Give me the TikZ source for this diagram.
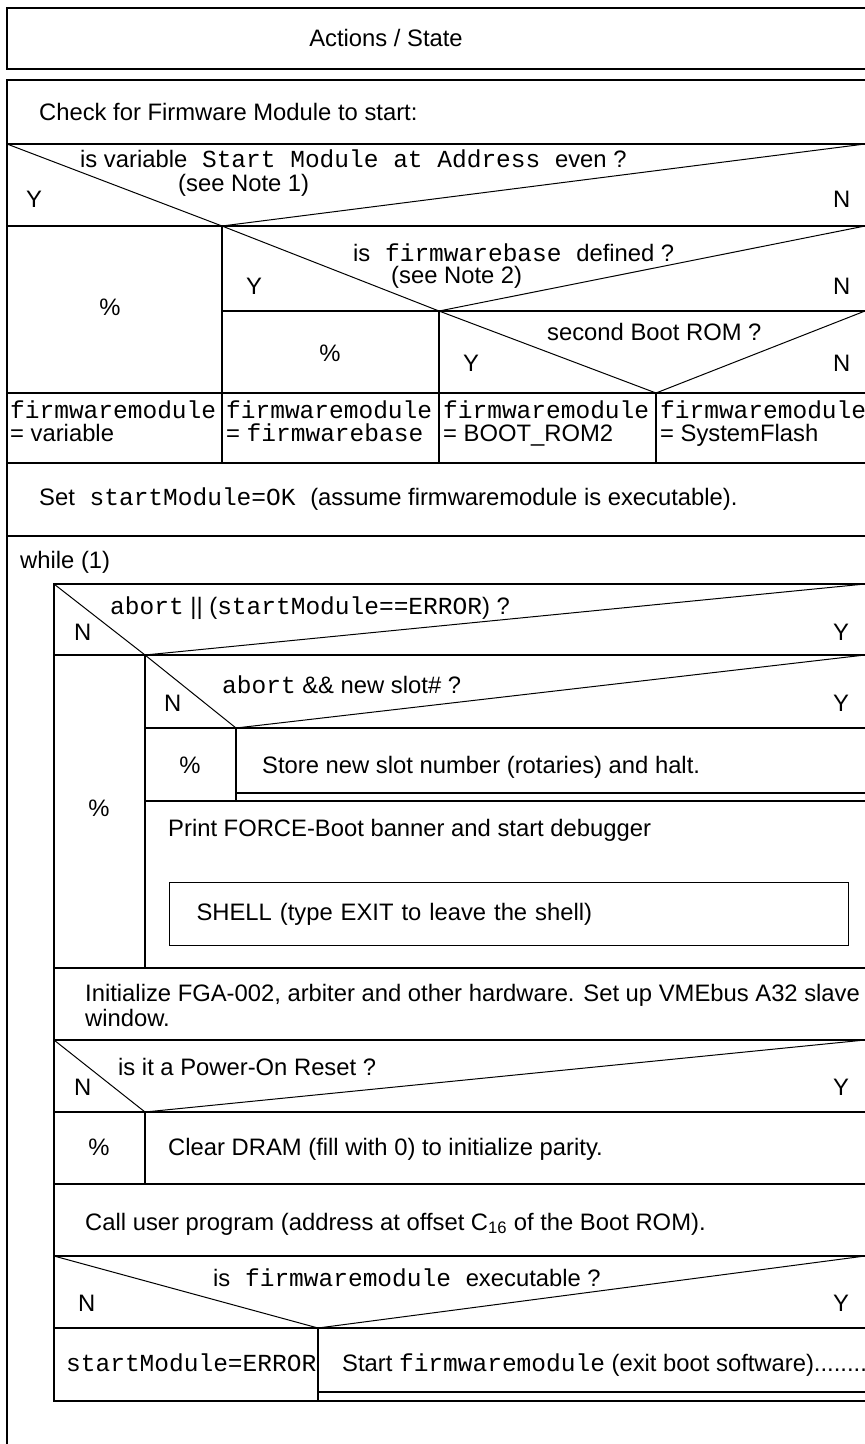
\documentclass[tikz,border=0pt]{standalone}
\usepackage{fontspec}
\setmainfont{Liberation Sans}
\setmonofont[Scale=1.03]{Liberation Mono}
\usetikzlibrary{positioning,calc}

\begin{document}
\begin{tikzpicture}[
    x=1pt, y=-1pt,
    every node/.style={font=\fontsize{23.8}{25}\selectfont, inner sep=0pt},
    txt/.style={anchor=base west},
    ctr/.style={anchor=base},
    upper/.style={txt, text depth=0pt},
    lower/.style={txt, text height=14pt},
    frame/.style={line width=1.1pt},
    slant/.style={line width=1pt},
    shellbox/.style={draw, line width=1.1pt, anchor=north west,
                     minimum width=679pt, minimum height=63pt,
                     text width=625pt, inner xsep=27pt, align=left},
]
\useasboundingbox (0,0) rectangle (865,1444);

% Header
\draw[frame] (870,8) -- (7,8) -- (7,69) -- (870,69);
\node[ctr] (head) at (386,46) {Actions / State};

% Outer frame
\draw[frame] (870,80) -- (7,80) -- (7,1450);
\node[txt] (check) at (39,120) {Check for Firmware Module to start:};
\draw[frame] (7,144) -- (870,144);

% Decision 1
\coordinate (v1) at (222,226);
\draw[slant] (7,144) -- (v1) -- (865,144);
\node[upper] (q1) at (80,167) {is variable\texttt{ Start Module at Address }even ?};
\node[lower] (q1b) at (178,191) {(see Note 1)};
\node[txt] (y1) at (26,207) {Y};
\node[txt] (n1) at (833,207) {N};
\draw[frame] (7,226) -- (870,226);
\node[ctr] (skip1) at (110,315) {\%};

% Decision 2
\coordinate (v2) at (439,311);
\draw[slant] (v1) -- (v2) -- (865,226);
\node[upper] (q2) at (353,261) {is\texttt{ firmwarebase }defined ?};
\node[lower] (q2b) at (391,283) {(see Note 2)};
\node[txt] (y2) at (246,294) {Y};
\node[txt] (n2) at (833,294) {N};
\draw[frame] (222,311) -- (870,311);
\node[ctr] (skip2) at (330,361) {\%};

% Decision 3
\coordinate (v3) at (656,393);
\draw[slant] (v2) -- (v3) -- (865,311);
\node[txt] (q3) at (547,340) {second Boot ROM ?};
\node[txt] (y3) at (463,371) {Y};
\node[txt] (n3) at (833,371) {N};
\draw[frame] (7,393) -- (870,393);

% Column separators
\draw[frame] (222,226) -- (222,463);
\draw[frame] (439,311) -- (439,463);
\draw[frame] (656,393) -- (656,463);

% Assignments
\node[upper] (fm1) at (10,418) {\texttt{firmwaremodule}};
\node[lower] (fv1) at (10,441) {= variable};
\node[upper] (fm2) at (226,418) {\texttt{firmwaremodule}};
\node[lower] (fv2) at (226,441) {= \texttt{firmwarebase}};
\node[upper] (fm3) at (443,418) {\texttt{firmwaremodule}};
\node[lower] (fv3) at (443,441) {= BOOT\_ROM2};
\node[upper] (fm4) at (660,418) {\texttt{firmwaremodule}};
\node[lower] (fv4) at (660,441) {= SystemFlash};
\draw[frame] (7,463) -- (870,463);

% Set start flag
\node[txt] (setok) at (39,505) {Set\texttt{ startModule=OK }(assume firmwaremodule is executable).};
\draw[frame] (7,536) -- (870,536);

% Loop
\node[txt] (loop) at (20,568) {while (1)};
\draw[frame] (870,584) -- (54,584) -- (54,1401) -- (870,1401);

% Decision A
\coordinate (va) at (145,655);
\draw[slant] (54,584) -- (va) -- (865,584);
\node[txt] (qa) at (110,614) {\texttt{abort} || (\texttt{startModule==ERROR}) ?};
\node[txt] (na) at (74,640) {N};
\node[txt] (ya) at (833,640) {Y};
\draw[frame] (54,655) -- (870,655);
\draw[frame] (145,655) -- (145,968);
\node[ctr] (skipa) at (99,816) {\%};

% Decision B
\coordinate (vb) at (236,728);
\draw[slant] (va) -- (vb) -- (865,655);
\node[txt] (qb) at (222,693) {\texttt{abort} \&\& new slot\# ?};
\node[txt] (nb) at (164,711) {N};
\node[txt] (yb) at (833,711) {Y};
\draw[frame] (145,728) -- (870,728);
\draw[frame] (236,728) -- (236,801);
\node[ctr] (skipb) at (190,773) {\%};
\node[txt] (store) at (262,773) {Store new slot number (rotaries) and halt.};
\draw[frame] (236,793) -- (870,793);
\draw[frame] (145,801) -- (870,801);

% Debugger
\node[txt] (banner) at (168,836) {Print FORCE-Boot banner and start debugger};
\node[shellbox] (shell) at (169,882) {SHELL (type EXIT to leave the shell)};
\draw[frame] (54,968) -- (870,968);

% Hardware init
\node[upper] (init) at (85,1001) {Initialize FGA-002, arbiter and other hardware. Set up VMEbus A32 slave};
\node[lower] (init2) at (85,1026) {window.};
\draw[frame] (54,1040) -- (870,1040);

% Decision C
\coordinate (vc) at (145,1112);
\draw[slant] (54,1040) -- (vc) -- (865,1040);
\node[txt] (qc) at (118,1075) {is it a Power-On Reset ?};
\node[txt] (nc) at (74,1095) {N};
\node[txt] (yc) at (833,1095) {Y};
\draw[frame] (54,1112) -- (870,1112);
\draw[frame] (145,1112) -- (145,1184);
\node[ctr] (skipc) at (99,1155) {\%};
\node[txt] (clear) at (168,1155) {Clear DRAM (fill with 0) to initialize parity.};
\draw[frame] (54,1184) -- (870,1184);

% User program
\node[txt] (call) at (85,1230) {Call user program (address at offset C\textsubscript{16} of the Boot ROM).};
\draw[frame] (54,1256) -- (870,1256);

% Decision D
\coordinate (vd) at (318,1328);
\draw[slant] (54,1256) -- (vd) -- (865,1256);
\node[txt] (qd) at (213,1286) {is\texttt{ firmwaremodule }executable ?};
\node[txt] (nd) at (78,1311) {N};
\node[txt] (yd) at (833,1311) {Y};
\draw[frame] (54,1328) -- (870,1328);
\draw[frame] (318,1328) -- (318,1401);
\node[txt] (err) at (66,1371) {\texttt{startModule=ERROR}};
\node[txt] (start) at (342,1371) {Start \texttt{firmwaremodule} (exit boot software)........};
\draw[frame] (318,1392) -- (870,1392);

\end{tikzpicture}
\end{document}
